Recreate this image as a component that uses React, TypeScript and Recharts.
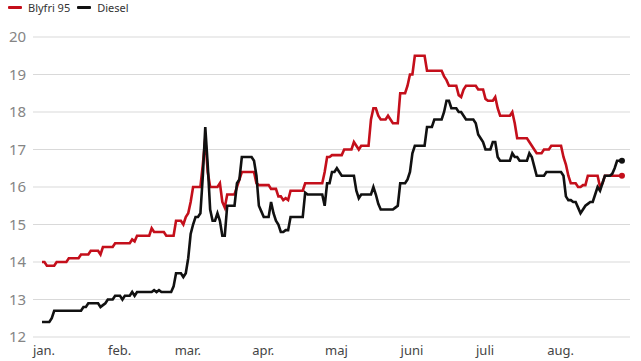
import { CartesianGrid, Line, LineChart, XAxis, YAxis } from "recharts";

// daily prices, kr. per litre, from 1 jan.
const blyfri95 = [
  14.0, 14.0, 13.9, 13.9, 13.9, 13.9, 14.0, 14.0, 14.0, 14.0,
  14.0, 14.1, 14.1, 14.1, 14.1, 14.1, 14.2, 14.2, 14.2, 14.2,
  14.3, 14.3, 14.3, 14.3, 14.2, 14.4, 14.4, 14.4, 14.4, 14.4,
  14.5, 14.5, 14.5, 14.5, 14.5, 14.5, 14.5, 14.6, 14.55, 14.7,
  14.7, 14.7, 14.7, 14.7, 14.7, 14.9, 14.8, 14.8, 14.8, 14.8,
  14.8, 14.7, 14.7, 14.7, 14.7, 15.1, 15.1, 15.1, 15.0, 15.2,
  15.3, 15.6, 16.0, 16.0, 16.0, 16.0, 16.6, 17.3, 16.4, 16.0,
  16.0, 16.0, 16.0, 16.1, 15.6, 15.45, 15.8, 15.8, 15.8, 15.8,
  16.0, 16.2, 16.4, 16.4, 16.4, 16.4, 16.4, 16.4, 16.1, 16.05,
  16.05, 16.05, 16.05, 16.05, 15.95, 15.95, 15.95, 15.75, 15.75, 15.65,
  15.7, 15.65, 15.9, 15.9, 15.9, 15.9, 15.9, 15.9, 16.1, 16.1,
  16.1, 16.1, 16.1, 16.1, 16.1, 16.1, 16.4, 16.8, 16.8, 16.85,
  16.85, 16.85, 16.85, 16.85, 17.0, 17.0, 17.0, 17.0, 17.2, 17.1,
  17.0, 17.1, 17.1, 17.1, 17.1, 17.8, 18.1, 18.1, 17.9, 17.8,
  17.8, 17.8, 17.9, 17.8, 17.7, 17.7, 17.7, 18.5, 18.5, 18.5,
  18.7, 19.0, 19.0, 19.5, 19.5, 19.5, 19.5, 19.5, 19.1, 19.1,
  19.1, 19.1, 19.1, 19.1, 19.1, 18.95, 18.85, 18.7, 18.7, 18.7,
  18.7, 18.45, 18.4, 18.6, 18.7, 18.7, 18.7, 18.7, 18.7, 18.6,
  18.6, 18.6, 18.35, 18.3, 18.3, 18.3, 18.4, 18.1, 17.9, 17.9,
  17.9, 17.9, 17.9, 18.0, 17.7, 17.3, 17.3, 17.3, 17.3, 17.3,
  17.2, 17.1, 17.0, 16.9, 16.9, 16.9, 17.0, 17.0, 17.0, 17.1,
  17.1, 17.1, 17.1, 17.1, 16.8, 16.6, 16.3, 16.1, 16.1, 16.1,
  16.0, 16.0, 16.05, 16.05, 16.3, 16.3, 16.3, 16.3, 16.3, 16.0,
  16.1, 16.3, 16.3, 16.3, 16.3, 16.3, 16.3, 16.3, 16.3,
];

const diesel = [
  12.4, 12.4, 12.4, 12.4, 12.5, 12.7, 12.7, 12.7, 12.7, 12.7,
  12.7, 12.7, 12.7, 12.7, 12.7, 12.7, 12.7, 12.8, 12.8, 12.9,
  12.9, 12.9, 12.9, 12.9, 12.8, 12.85, 12.9, 13.0, 13.0, 13.0,
  13.1, 13.1, 13.1, 13.0, 13.1, 13.1, 13.1, 13.2, 13.1, 13.2,
  13.2, 13.2, 13.2, 13.2, 13.2, 13.2, 13.25, 13.2, 13.25, 13.2,
  13.2, 13.2, 13.2, 13.2, 13.35, 13.7, 13.7, 13.7, 13.6, 13.7,
  14.1, 14.75, 15.0, 15.2, 15.2, 15.3, 16.3, 17.6, 16.6, 15.4,
  15.1, 15.1, 15.3, 15.1, 14.7, 14.7, 15.5, 15.5, 15.5, 15.5,
  16.1, 16.2, 16.8, 16.8, 16.8, 16.8, 16.8, 16.7, 16.3, 15.5,
  15.35, 15.2, 15.2, 15.2, 15.6, 15.3, 15.1, 15.0, 14.8, 14.8,
  14.85, 14.85, 15.2, 15.2, 15.2, 15.2, 15.2, 15.2, 15.85, 15.8,
  15.8, 15.8, 15.8, 15.8, 15.8, 15.8, 15.5, 16.1, 16.1, 16.4,
  16.4, 16.5, 16.4, 16.3, 16.3, 16.3, 16.3, 16.3, 16.3, 15.9,
  15.7, 15.8, 15.8, 15.8, 15.8, 15.8, 16.0, 15.8, 15.55, 15.4,
  15.4, 15.4, 15.4, 15.4, 15.4, 15.45, 15.5, 16.1, 16.1, 16.1,
  16.2, 16.4, 16.9, 17.1, 17.1, 17.1, 17.1, 17.1, 17.6, 17.6,
  17.6, 17.8, 17.8, 17.8, 17.8, 18.0, 18.3, 18.3, 18.1, 18.1,
  18.1, 18.0, 18.0, 17.9, 17.8, 17.8, 17.8, 17.8, 17.7, 17.4,
  17.3, 17.2, 17.0, 17.0, 17.0, 17.2, 17.2, 16.8, 16.7, 16.7,
  16.7, 16.7, 16.7, 16.9, 16.8, 16.8, 16.7, 16.7, 16.7, 16.7,
  16.9, 16.8, 16.55, 16.3, 16.3, 16.3, 16.3, 16.4, 16.4, 16.4,
  16.4, 16.4, 16.4, 16.4, 16.3, 15.75, 15.65, 15.65, 15.6, 15.6,
  15.45, 15.3, 15.4, 15.5, 15.55, 15.6, 15.6, 15.8, 16.0, 15.9,
  16.1, 16.3, 16.3, 16.3, 16.35, 16.5, 16.7, 16.7, 16.7,
];

// first day of each month (day index from 1 jan.)
const monthStarts = [0, 31, 59, 90, 120, 151, 181, 212];
const monthLabels = ["jan.", "feb.", "mar.", "apr.", "maj", "juni", "juli", "aug."];
const yTicks = [12, 13, 14, 15, 16, 17, 18, 19, 20];

const RED = "#c40f1b";
const BLACK = "#111111";
const FONT = "'Noto Sans', sans-serif";

const data = blyfri95.map((v, i) => ({ day: i, blyfri: v, diesel: diesel[i] }));
const lastIndex = data.length - 1;

function endDot(color: string) {
  return (props: any) => {
    const { cx, cy, index } = props;
    if (index !== lastIndex) return <g key={`d-${index}`} />;
    return <circle key={`d-${index}`} cx={cx} cy={cy} r={3} fill={color} />;
  };
}

function YTick({ y, payload }: any) {
  return (
    <text x={9} y={y} dy={5} fontSize={15} fill="#858585" fontFamily={FONT}>
      {payload.value}
    </text>
  );
}

function XTick({ x, y, payload }: any) {
  const idx = monthStarts.indexOf(payload.value);
  return (
    <text x={x + 2} y={y} dy={10} fontSize={13} fill="#444" textAnchor="middle" fontFamily={FONT}>
      {monthLabels[idx]}
    </text>
  );
}

function LegendItem({ color, label }: { color: string; label: string }) {
  return (
    <div style={{ display: "flex", alignItems: "center", marginRight: 7 }}>
      <div style={{ width: 14, height: 3, background: color, marginRight: 6, borderRadius: 1 }} />
      <span>{label}</span>
    </div>
  );
}

export default function App() {
  return (
    <div style={{ position: "absolute", left: 0, top: 0, width: 641, height: 361, background: "#fff" }}>
      <div
        style={{
          position: "absolute",
          left: 8,
          top: 1,
          display: "flex",
          fontFamily: FONT,
          fontSize: 11,
          lineHeight: "13px",
          color: "#333",
        }}
      >
        <LegendItem color={RED} label="Blyfri 95" />
        <LegendItem color={BLACK} label="Diesel" />
      </div>
      <LineChart width={641} height={361} data={data} margin={{ top: 37, right: 11, bottom: 0, left: 0 }}>
        <CartesianGrid vertical={false} stroke="#d9d9d9" />
        <XAxis
          dataKey="day"
          type="number"
          domain={[-3.7, 241.3]}
          ticks={monthStarts}
          axisLine={false}
          tickLine={false}
          height={24}
          tick={<XTick />}
        />
        <YAxis
          domain={[12, 20]}
          ticks={yTicks}
          axisLine={false}
          tickLine={false}
          width={33}
          tick={<YTick />}
        />
        <Line
          type="linear"
          dataKey="blyfri"
          name="Blyfri 95"
          stroke={RED}
          strokeWidth={2.6}
          dot={endDot(RED)}
          activeDot={false}
          isAnimationActive={false}
        />
        <Line
          type="linear"
          dataKey="diesel"
          name="Diesel"
          stroke={BLACK}
          strokeWidth={2.6}
          dot={endDot(BLACK)}
          activeDot={false}
          isAnimationActive={false}
        />
      </LineChart>
    </div>
  );
}
